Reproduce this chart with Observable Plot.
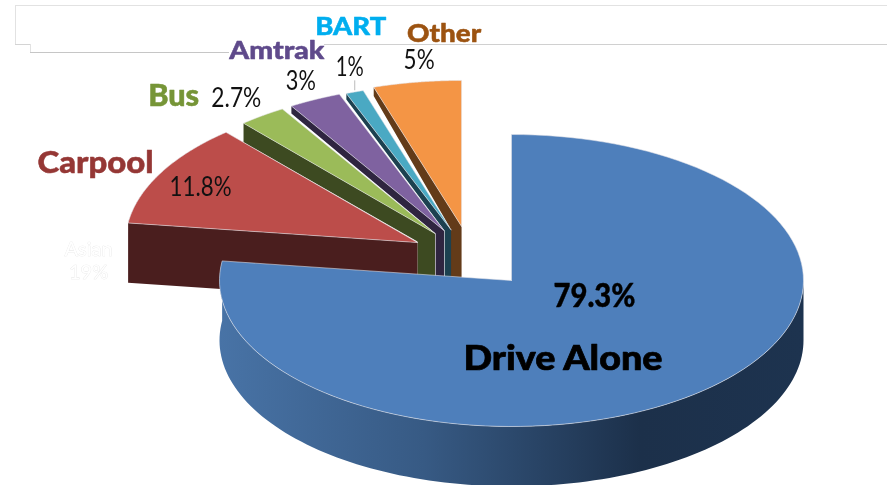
<!DOCTYPE html>
<html>
<head>
<meta charset="utf-8">
<script src="https://cdn.jsdelivr.net/npm/d3@7"></script>
<script src="https://cdn.jsdelivr.net/npm/@observablehq/plot@0.6"></script>
<style>
  html,body{margin:0;padding:0;background:#fff;}
  #wrap{position:relative;width:887px;height:485px;overflow:hidden;}
  #wrap .f{position:absolute;background:#e2e2e2;}
  #chart{position:absolute;left:0;top:0;filter:blur(0.5px);}
  #chart svg{display:block;background:transparent;}
  #chart text{font-family:Lato,"Noto Sans",sans-serif;}
</style>
</head>
<body>
<div id="wrap">
  <div class="f" style="left:15px;top:5px;width:872px;height:1px"></div>
  <div class="f" style="left:15px;top:5px;width:1px;height:39px"></div>
  <div class="f" style="left:15px;top:44px;width:16px;height:1px;background:#d4d4d4"></div>
  <div class="f" style="left:30px;top:44px;width:1px;height:8px"></div>
  <div class="f" style="left:30px;top:52px;width:199px;height:1px;background:#c6c6c6"></div>
  <div class="f" style="left:324px;top:44px;width:563px;height:1px;background:#d0d0d0"></div>
  <div id="chart"></div>
</div>
<script>
// ---- data ----
const modes   = ["Drive Alone", "Carpool", "Bus", "Amtrak", "BART", "Other"];
const shares  = [79.3, 11.8, 2.7, 3, 1, 5];
const pctText = ["79.3%", "11.8%", "2.7%", "3%", "1%", "5%"];
const ghostText = ["Asian", "19%"];

// ---- styling ----
const topColors  = ["#4E7FBB", "#BC4D4A", "#9BBB59", "#7F62A0", "#4AA9C3", "#F49545"];
const wallColors = ["url(#mainWall)", "#4A1E1E", "#3D4A21", "#2F2540", "#1C4150", "#633B19"];
const nameColors = ["#000000", "#953735", "#769537", "#5F4A8B", "#00AEEF", "#9C5311"];

// explosion of each slice, in radii of the pie
const explodeX = [0, -0.322, -0.262, -0.231, -0.207, -0.171];
const explodeY = [0, -0.26, -0.322, -0.342, -0.347, -0.37];
// visible part of each side wall, in radii of the pie
const wallW    = [0, 0, 0.06, 0.029, 0.022, 0.04];
const wallEdge = [0, 0, 0.055, 0.02, 0.007, 0.007];
const wallStep = [0, 0, 0.13, 0.05, 0.04, 0.06];
const depth = 0.41;

const total = d3.sum(shares);
let acc = 0;
const slices = shares.map((v, i) => {
  const t0 = acc / total * 2 * Math.PI;
  acc += v;
  const t1 = acc / total * 2 * Math.PI;
  return {i, t0, t1, cx: explodeX[i], cy: explodeY[i]};
});
const pt = (s, t, dv = 0) => ({x: s.cx + Math.sin(t), y: s.cy - Math.cos(t) + dv});
const arc = (s, a, b, dv = 0) => d3.range(0, 121).map(k => pt(s, a + (b - a) * k / 120, dv));
const topFace = s => [{x: s.cx, y: s.cy}, ...arc(s, s.t0, s.t1), {x: s.cx, y: s.cy}];
const midArc = s => pt(s, (s.t0 + s.t1) / 2);

function wall(s) {
  if (s.i === 0) {
    const a = Math.PI / 2, b = s.t1;
    return [...arc(s, a, b), ...arc(s, b, a, depth), pt(s, a)];
  }
  const o = pt(s, s.t0);
  if (s.i === 1) {
    return [o, {x: s.cx, y: s.cy}, {x: s.cx, y: s.cy + depth}, {x: o.x, y: o.y + depth}, o];
  }
  const w = wallW[s.i];
  return [o, {x: s.cx, y: s.cy}, {x: s.cx, y: s.cy + depth}, {x: s.cx - w, y: s.cy + depth},
          {x: s.cx - w, y: s.cy + wallEdge[s.i]}, {x: o.x, y: o.y + wallStep[s.i]}, o];
}

// len = the width each label takes in the picture
const labels = [
  {i: 0, text: modes[0],   at: {x: 0, y: 0}, dx: 51.5, dy: 78, size: 35, weight: 900, len: 199, halo: 0.7},
  {i: 0, text: pctText[0], at: {x: 0, y: 0}, dx: 83,   dy: 16, size: 32, weight: 900, len: 82, halo: 0.4},
  {i: 1, text: modes[1],   s: 1, dx: -65,  dy: -9.6, size: 29.5, weight: 900, len: 116, halo: 0.5},
  {i: 2, text: modes[2],   s: 2, dx: -88.7, dy: -19, size: 29.5, weight: 900, len: 51, halo: 0.5},
  {i: 3, text: modes[3],   s: 3, dx: -38,  dy: -48.5, size: 25.5, weight: 900, len: 95, halo: 0.5},
  {i: 4, text: modes[4],   s: 4, dx: -4,   dy: -65.5, size: 25.5, weight: 900, len: 71, halo: 0.5},
  {i: 5, text: modes[5],   s: 5, dx: 27,   dy: -48.7, size: 25.5, weight: 900, len: 74, halo: 0.5},
  {i: 9, text: pctText[1], s: 1, dx: 40,   dy: 14, size: 26, weight: 400, len: 62, halo: 0},
  {i: 9, text: pctText[2], s: 2, dx: -26,  dy: -17, size: 26, weight: 400, len: 50, halo: 0},
  {i: 9, text: pctText[3], s: 3, dx: -14,  dy: -17.5, size: 26, weight: 400, len: 30, halo: 0},
  {i: 9, text: pctText[4], s: 4, dx: -5,   dy: -24.5, size: 26, weight: 400, len: 28, halo: 0},
  {i: 9, text: pctText[5], s: 5, dx: 2,    dy: -21.7, size: 26, weight: 400, len: 31, halo: 0}
];

const gradient = () => {
  const svg = d3.create("svg:g");
  const g = svg.append("defs").append("linearGradient").attr("id", "mainWall");
  [[0, "#4873A6"], [0.35, "#375A84"], [0.72, "#1C304A"], [1, "#1D334F"]]
    .forEach(([o, c]) => g.append("stop").attr("offset", o).attr("stop-color", c));
  return svg.node();
};

const order = [5, 4, 3, 2, 1, 0];
const polyMarks = order.flatMap(i => {
  const s = slices[i];
  return [
    Plot.line(wall(s), {x: "x", y: "y", fill: wallColors[i], stroke: "none"}),
    Plot.line(topFace(s), {x: "x", y: "y", fill: topColors[i], stroke: "#e4e4ea", strokeWidth: 0.7, strokeOpacity: 0.8})
  ];
});

const textMarks = labels.map(l => {
  const a = l.at || midArc(slices[l.s]);
  const color = l.i === 9 ? "#111111" : nameColors[l.i];
  return Plot.text([a], {
    x: "x", y: "y", text: () => l.text, dx: l.dx, dy: l.dy,
    fontSize: l.size, fontWeight: l.weight,
    fill: color, stroke: l.halo ? color : "none", strokeWidth: l.halo,
    textAnchor: "middle", lineAnchor: "middle",
    className: "lab"
  });
});

const ghostAt = midArc(slices[1]);
const ghostMarks = ghostText.map((t, k) => Plot.text([ghostAt], {
  x: "x", y: "y", text: () => t, dx: -72, dy: 76.4 + 23 * k, fontSize: 20,
  fill: "#ffffff", stroke: "#e4e4e4", strokeWidth: 0.6, paintOrder: "stroke",
  textAnchor: "middle", lineAnchor: "middle"
}));

const bartMid = midArc(slices[4]);
const leader = Plot.link([bartMid], {
  x1: "x", y1: d => d.y - 0.012, x2: "x", y2: d => d.y - 0.08,
  stroke: "#bbbbbb", strokeWidth: 1
});

const plot = Plot.plot({
  width: 887, height: 485,
  marginTop: 0, marginRight: 0, marginBottom: 0, marginLeft: 0,
  x: {domain: [-511 / 292, 376 / 292], range: [0, 887], axis: null},
  y: {domain: [-280 / 146, 205 / 146], range: [0, 485], axis: null},
  style: {background: "transparent"},
  marks: [gradient, ...polyMarks, leader, ...ghostMarks, ...textMarks]
});
// the reference type is wider than Lato: stretch each label to its measured width
plot.querySelectorAll("g.lab text, text.lab").forEach((el, k) => {
  el.setAttribute("textLength", labels[k].len);
  el.setAttribute("lengthAdjust", "spacingAndGlyphs");
});
document.getElementById("chart").appendChild(plot);
</script>
</body>
</html>
